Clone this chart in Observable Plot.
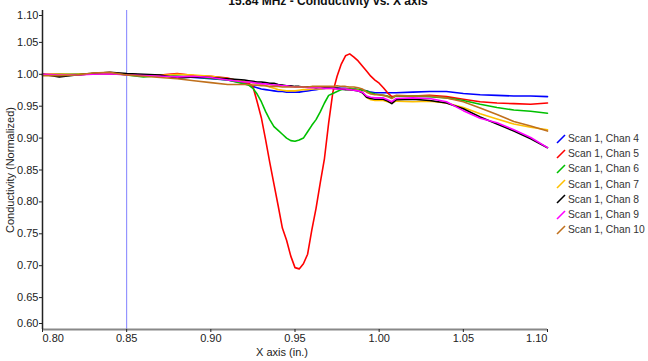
<!DOCTYPE html>
<html>
<head>
<meta charset="utf-8">
<script src="https://cdn.jsdelivr.net/npm/d3@7"></script>
<script src="https://cdn.jsdelivr.net/npm/@observablehq/plot@0.6"></script>
<style>
  body { margin: 0; background: #fff; }
  #chart { position: relative; width: 648px; height: 361px; overflow: hidden;
           font-family: "Liberation Sans", Arial, sans-serif; color: #222; background: #fff; }
  #chart > svg { position: absolute; left: 0; top: 0; }
  .title { position: absolute; left: 328px; top: -6px; transform: translateX(-50%);
           font-size: 12px; font-weight: bold; line-height: 14px; white-space: nowrap; color: #111; }
  .ylab { position: absolute; left: 10px; top: 170px; transform: translate(-50%, -50%) rotate(-90deg);
          font-size: 11px; white-space: nowrap; line-height: 13px; }
  .xlab { position: absolute; left: 282px; top: 346px; transform: translateX(-50%);
          font-size: 11px; white-space: nowrap; line-height: 13px; }
  .legend { position: absolute; left: 556px; top: 131px; }
  .legend .row { display: flex; align-items: center; height: 15.2px; font-size: 10.3px; white-space: nowrap; color: #333; }
  .legend .row svg { display: block; margin-right: 2px; flex: none; }
</style>
</head>
<body>
<div id="chart"></div>
<script>
// Probe position along the scan (inches)
const xPos = [
  0.80, 0.81, 0.82, 0.83, 0.84, 0.85, 0.86, 0.87, 0.88, 0.89, 0.90, 0.91,
  0.9200, 0.9225, 0.9250, 0.9275, 0.9300, 0.9325, 0.9350, 0.9375, 0.9400, 0.9425,
  0.9450, 0.9475, 0.9500, 0.9525, 0.9550, 0.9575, 0.9600, 0.9625, 0.9650, 0.9675,
  0.9700, 0.9725, 0.9750, 0.9775, 0.9800, 0.9825, 0.9850, 0.9875, 0.9900, 0.9925,
  0.9950, 0.9975, 1.0000, 1.0025, 1.0050, 1.0075,
  1.01, 1.02, 1.03, 1.04, 1.05, 1.06, 1.07, 1.08, 1.09, 1.10
];

// Normalized conductivity per channel
const chan4 = [
  1.000, 0.999, 1.000, 1.001, 1.001, 1.000, 0.999, 0.998, 0.997, 0.995, 0.993, 0.991,
  0.986, 0.984, 0.981, 0.979, 0.977, 0.976, 0.975, 0.974, 0.973, 0.973,
  0.972, 0.972, 0.972, 0.972, 0.973, 0.974, 0.975, 0.976, 0.977, 0.978,
  0.979, 0.979, 0.979, 0.978, 0.978, 0.977, 0.977, 0.976, 0.975, 0.974,
  0.972, 0.971, 0.971, 0.971, 0.971, 0.971,
  0.971, 0.972, 0.973, 0.973, 0.970, 0.968, 0.967, 0.966, 0.966, 0.965
];
const chan5 = [
  1.000, 1.000, 0.999, 1.001, 1.001, 1.000, 0.999, 0.999, 1.001, 0.998, 0.997, 0.994,
  0.987, 0.986, 0.981, 0.957, 0.932, 0.898, 0.862, 0.828, 0.794, 0.759,
  0.740, 0.715, 0.697, 0.695, 0.703, 0.718, 0.756, 0.790, 0.830, 0.868,
  0.924, 0.972, 0.997, 1.016, 1.029, 1.032, 1.027, 1.021, 1.013, 1.005,
  0.997, 0.991, 0.986, 0.979, 0.971, 0.965,
  0.966, 0.966, 0.967, 0.965, 0.961, 0.957, 0.955, 0.954, 0.953, 0.955
];
const chan6 = [
  0.999, 1.000, 1.000, 1.001, 1.002, 0.999, 0.996, 0.998, 0.997, 0.996, 0.994, 0.991,
  0.985, 0.983, 0.978, 0.969, 0.957, 0.942, 0.929, 0.918, 0.912, 0.906,
  0.900, 0.896, 0.895, 0.897, 0.900, 0.910, 0.920, 0.929, 0.941, 0.955,
  0.967, 0.970, 0.973, 0.976, 0.977, 0.978, 0.977, 0.976, 0.975, 0.974,
  0.971, 0.969, 0.968, 0.967, 0.966, 0.963,
  0.966, 0.966, 0.965, 0.963, 0.959, 0.953, 0.948, 0.944, 0.942, 0.939
];
const chan7 = [
  1.000, 1.000, 1.000, 1.001, 1.002, 1.000, 0.999, 0.998, 1.000, 0.999, 0.997, 0.993,
  0.989, 0.988, 0.987, 0.986, 0.984, 0.982, 0.980, 0.978, 0.976, 0.975,
  0.974, 0.974, 0.974, 0.975, 0.976, 0.976, 0.977, 0.977, 0.977, 0.978,
  0.978, 0.978, 0.978, 0.977, 0.977, 0.976, 0.976, 0.975, 0.972, 0.964,
  0.960, 0.959, 0.959, 0.959, 0.957, 0.955,
  0.958, 0.957, 0.958, 0.955, 0.948, 0.938, 0.930, 0.922, 0.917, 0.913
];
const chan8 = [
  1.000, 0.996, 0.999, 1.001, 1.003, 1.001, 1.000, 0.999, 0.994, 0.996, 0.995, 0.993,
  0.991, 0.990, 0.989, 0.988, 0.988, 0.987, 0.986, 0.986, 0.984, 0.983,
  0.982, 0.982, 0.981, 0.981, 0.980, 0.980, 0.980, 0.979, 0.980, 0.979,
  0.979, 0.978, 0.978, 0.977, 0.976, 0.976, 0.975, 0.974, 0.971, 0.964,
  0.962, 0.961, 0.961, 0.961, 0.958, 0.954,
  0.960, 0.961, 0.959, 0.955, 0.946, 0.933, 0.922, 0.911, 0.899, 0.885
];
const chan9 = [
  1.000, 0.999, 0.999, 1.000, 1.001, 0.999, 0.998, 0.997, 0.996, 0.997, 0.995, 0.991,
  0.988, 0.988, 0.987, 0.986, 0.985, 0.985, 0.984, 0.983, 0.983, 0.982,
  0.982, 0.981, 0.980, 0.980, 0.980, 0.979, 0.979, 0.979, 0.979, 0.978,
  0.978, 0.978, 0.977, 0.977, 0.977, 0.976, 0.975, 0.974, 0.972, 0.966,
  0.964, 0.963, 0.963, 0.963, 0.960, 0.957,
  0.962, 0.963, 0.962, 0.957, 0.943, 0.931, 0.924, 0.913, 0.901, 0.885
];
const chan10 = [
  0.998, 0.998, 0.999, 1.002, 1.003, 0.999, 0.997, 0.995, 0.993, 0.990, 0.987, 0.984,
  0.984, 0.984, 0.983, 0.983, 0.982, 0.982, 0.981, 0.981, 0.981, 0.980,
  0.980, 0.980, 0.980, 0.980, 0.980, 0.980, 0.981, 0.981, 0.981, 0.981,
  0.981, 0.981, 0.982, 0.981, 0.981, 0.980, 0.980, 0.979, 0.977, 0.972,
  0.969, 0.968, 0.968, 0.967, 0.965, 0.962,
  0.967, 0.966, 0.966, 0.963, 0.957, 0.947, 0.937, 0.926, 0.919, 0.911
];

const seriesNames = ["Scan 1, Chan 4", "Scan 1, Chan 5", "Scan 1, Chan 6", "Scan 1, Chan 7",
                     "Scan 1, Chan 8", "Scan 1, Chan 9", "Scan 1, Chan 10"];
const seriesValues = [chan4, chan5, chan6, chan7, chan8, chan9, chan10];
const seriesColors = ["#0000ff", "#ff0000", "#00c000", "#ffc000", "#000000", "#ff00ff", "#c0701c"];

const xTicks = [0.80, 0.85, 0.90, 0.95, 1.00, 1.05, 1.10];
const yTicks = [0.60, 0.65, 0.70, 0.75, 0.80, 0.85, 0.90, 0.95, 1.00, 1.05, 1.10];
const markerX = 0.85;

const rows = seriesNames.flatMap((name, s) =>
  xPos.map((x, i) => ({ x, y: seriesValues[s][i], name })));

const fmt = d3.format(".2f");
const axisCommon = { tickSize: 3, tickFormat: fmt, label: null, stroke: "#222", fill: "#222" };

const plot = Plot.plot({
  width: 648,
  height: 361,
  marginTop: 10,
  marginBottom: 32,
  marginLeft: 42,
  marginRight: 101,
  x: { domain: [0.80, 1.10] },
  y: { domain: [0.60, 1.10] },
  color: { domain: seriesNames, range: seriesColors },
  style: { fontFamily: "'Liberation Sans', Arial, sans-serif", fontSize: "11px", background: "transparent", overflow: "visible" },
  marks: [
    Plot.ruleX([markerX], { stroke: "#8080ff", strokeWidth: 1 }),
    Plot.line(rows, { x: "x", y: "y", z: "name", stroke: "name", strokeWidth: 1.6 }),
    Plot.ruleY([0.60], { stroke: "#888", strokeWidth: 2 }),
    Plot.ruleX([0.80], { stroke: "#222", strokeWidth: 1.5 }),
    Plot.axisX(xTicks.slice(1, -1), { ...axisCommon, tickPadding: 2 }),
    Plot.axisX([xTicks[0]], { ...axisCommon, tickPadding: 2, textAnchor: "start" }),
    Plot.axisX([xTicks[xTicks.length - 1]], { ...axisCommon, tickPadding: 2, textAnchor: "end" }),
    Plot.axisY(yTicks.slice(1, -1), { ...axisCommon, tickPadding: 1 }),
    Plot.axisY([yTicks[0]], { ...axisCommon, tickPadding: 1, dy: -6 }),
    Plot.axisY([yTicks[yTicks.length - 1]], { ...axisCommon, tickPadding: 1, dy: 5 })
  ]
});

const chart = document.getElementById("chart");
chart.appendChild(plot);

const title = document.createElement("div");
title.className = "title";
title.textContent = "15.84 MHz - Conductivity vs. X axis";
chart.appendChild(title);

const ylab = document.createElement("div");
ylab.className = "ylab";
ylab.textContent = "Conductivity (Normalized)";
chart.appendChild(ylab);

const xlab = document.createElement("div");
xlab.className = "xlab";
xlab.textContent = "X axis (in.)";
chart.appendChild(xlab);

// Legend: short diagonal swatch per channel
const legend = document.createElement("div");
legend.className = "legend";
seriesNames.forEach((name, i) => {
  const row = document.createElement("div");
  row.className = "row";
  row.innerHTML = `<svg width="10" height="10"><line x1="1" y1="9" x2="9" y2="1" stroke="${seriesColors[i]}" stroke-width="1.6"/></svg><span>${name}</span>`;
  legend.appendChild(row);
});
chart.appendChild(legend);
</script>
</body>
</html>
